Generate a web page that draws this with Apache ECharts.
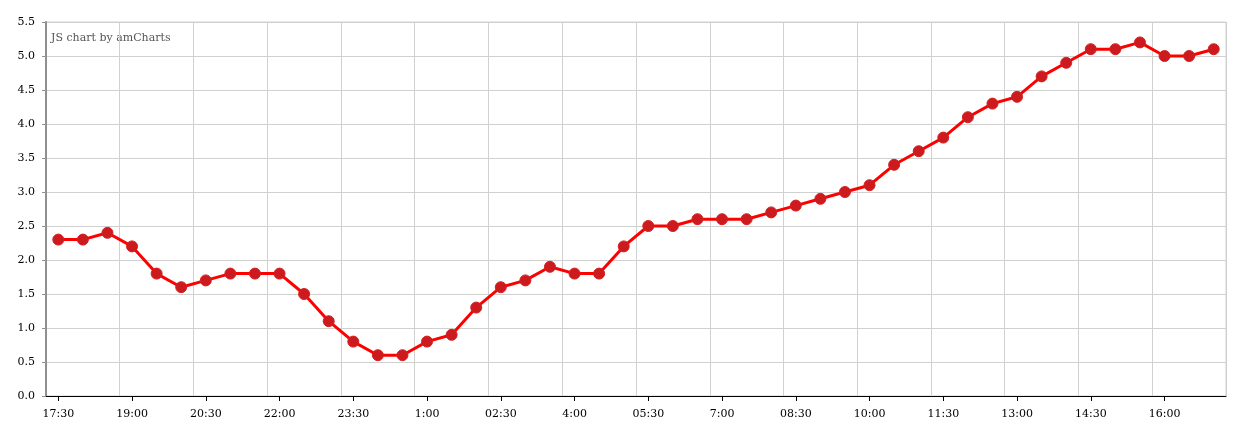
<!DOCTYPE html>
<html>
<head>
<meta charset="utf-8">
<script src="https://cdn.jsdelivr.net/npm/echarts@6/dist/echarts.min.js"></script>
<style>html,body{margin:0;padding:0;background:#fff}#c{width:1239px;height:434px}</style>
</head>
<body>
<div id="c"></div>
<script>
const categories = ["17:30","18:00","18:30","19:00","19:30","20:00","20:30","21:00","21:30","22:00","22:30","23:00","23:30","0:00","00:30","1:00","01:30","2:00","02:30","3:00","03:30","4:00","04:30","5:00","05:30","6:00","06:30","7:00","07:30","8:00","08:30","9:00","09:30","10:00","10:30","11:00","11:30","12:00","12:30","13:00","13:30","14:00","14:30","15:00","15:30","16:00","16:30","17:00"];
const values = [2.3,2.3,2.4,2.2,1.8,1.6,1.7,1.8,1.8,1.8,1.5,1.1,0.8,0.6,0.6,0.8,0.9,1.3,1.6,1.7,1.9,1.8,1.8,2.2,2.5,2.5,2.6,2.6,2.6,2.7,2.8,2.9,3.0,3.1,3.4,3.6,3.8,4.1,4.3,4.4,4.7,4.9,5.1,5.1,5.2,5.0,5.0,5.1];
const font = "'DejaVu Serif', serif";
const chart = echarts.init(document.getElementById('c'), null, {renderer:'canvas'});
chart.setOption({
  animation: false,
  backgroundColor: '#fff',
  grid: {left: 46, right: 13, top: 22, bottom: 38, show: true, borderColor: '#d0d0d0', borderWidth: 1},
  graphic: [{type:'text', left: 51, top: 33, style:{text:'JS chart by amCharts', font:"11px 'DejaVu Serif', serif", fill:'#555'}}],
  xAxis: {
    type: 'category', data: categories, boundaryGap: true,
    axisLine: {show: true, lineStyle: {color: '#000', width: 1}},
    axisTick: {show: true, interval: 2, alignWithLabel: true, length: 5, lineStyle:{color:'#000'}},
    axisLabel: {interval: 2, color: '#000', fontFamily: font, fontSize: 11, margin: 13},
    splitLine: {show: true, interval: 2, lineStyle: {color: '#d0d0d0', width: 1}}
  },
  yAxis: {
    type: 'value', min: 0, max: 5.5, interval: 0.5,
    axisLine: {show: true, lineStyle: {color: '#909090', width: 2}},
    axisTick: {show: true, length: 4, lineStyle:{color:'#909090'}},
    axisLabel: {color: '#000', fontFamily: font, fontSize: 11, margin: 11, formatter: v => v.toFixed(1)},
    splitLine: {show: true, lineStyle: {color: '#d0d0d0', width: 1}}
  },
  series: [{
    type: 'line', data: values,
    lineStyle: {color: '#ff0000', width: 3},
    symbol: 'circle', symbolSize: 11,
    itemStyle: {color: '#cc1a1f', borderColor: '#d42020', borderWidth: 1}
  }]
});
</script>
</body>
</html>
